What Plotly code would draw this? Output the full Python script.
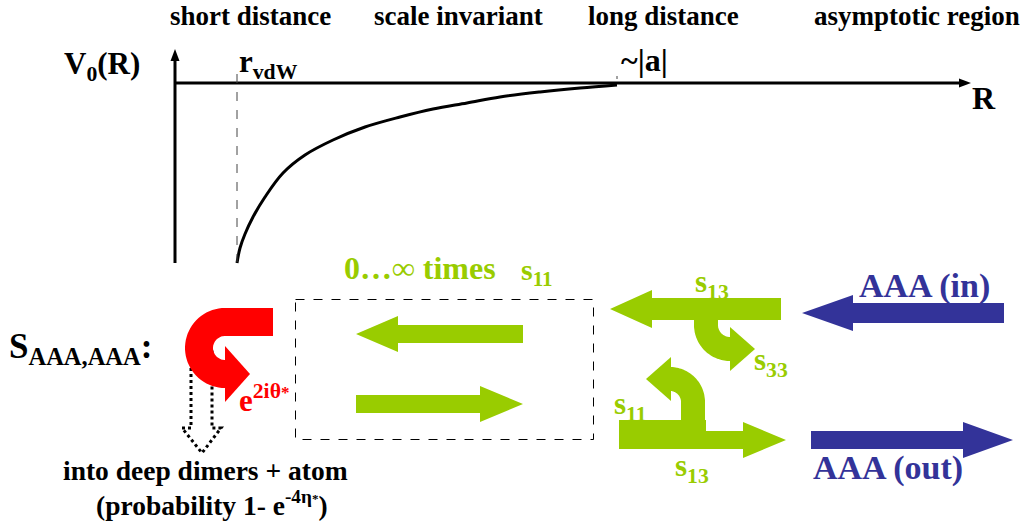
import numpy as np
import plotly.graph_objects as go

W, H = 1029, 527
FONT = "Liberation Serif"
GREEN = "#99CC00"
BLUE = "#333399"
RED = "#FF0000"

# potential curve V0(R) (page coordinates)
curve_R = [237, 240, 245, 253, 265, 283, 305, 333, 365, 400, 433, 467, 500, 540, 580, 617]
curve_V = [263, 248, 234, 217, 197, 173, 155, 140, 127, 117, 109, 103, 97, 92, 88, 85]

region_labels = ["short distance", "scale invariant", "long distance", "asymptotic region"]
region_x = [250, 458, 663, 917]

fig = go.Figure()
fig.add_trace(go.Scatter(x=curve_R, y=curve_V, mode="lines", line=dict(color="black", width=3, shape="spline"),
                         hoverinfo="skip", showlegend=False))

shapes = []


def poly(pts, color):
    d = "M" + " L".join(f"{x:.1f},{y:.1f}" for x, y in pts) + " Z"
    return dict(type="path", path=d, fillcolor=color, line=dict(width=0), xref="x", yref="y", layer="above")


def harrow(x_tail, x_hb, x_tip, y, sh, hh, color):
    pts = [(x_tail, y - sh), (x_hb, y - sh), (x_hb, y - hh), (x_tip, y), (x_hb, y + hh), (x_hb, y + sh), (x_tail, y + sh)]
    return poly(pts, color)


def ring(cx, cy, rin, rout, t0, t1, color, n=40):
    ts = np.radians(np.linspace(t0, t1, n))
    outer = [(cx + rout * np.cos(t), cy + rout * np.sin(t)) for t in ts]
    inner = [(cx + rin * np.cos(t), cy + rin * np.sin(t)) for t in ts[::-1]]
    return poly(outer + inner, color)


def rect(x0, y0, x1, y1, color):
    return poly([(x0, y0), (x1, y0), (x1, y1), (x0, y1)], color)


# axes
shapes.append(dict(type="line", x0=175, x1=175, y0=263, y1=58, line=dict(color="black", width=3)))
shapes.append(poly([(175, 49), (170.5, 61), (179.5, 61)], "black"))
shapes.append(dict(type="line", x0=175, x1=960, y0=83, y1=83, line=dict(color="black", width=3)))
shapes.append(poly([(971, 83), (959, 78.5), (959, 87.5)], "black"))
# dashed markers
shapes.append(dict(type="line", x0=237, x1=237, y0=74, y1=262, line=dict(color="#444444", width=1, dash="dash")))
shapes.append(dict(type="line", x0=617, x1=617, y0=76, y1=82, line=dict(color="#444444", width=1, dash="dot")))
# dashed box
shapes.append(dict(type="rect", x0=295.5, x1=593.5, y0=299.5, y1=439.5, line=dict(color="black", width=1, dash="dash")))

# dotted hollow arrow (loss into deep dimers)
shapes.append(dict(type="path", path="M191,350 L191,428 L182,428 L202,453 L221,428 L212,428 L212,350",
                   line=dict(color="black", width=3, dash="dot"), xref="x", yref="y"))

# red hook
shapes.append(rect(223, 308, 273, 336, RED))
shapes.append(ring(225, 348, 12, 40, 270, 90, RED))
shapes.append(poly([(225, 346), (250, 374), (225, 402)], RED))

# green arrows in box
shapes.append(harrow(523, 398, 356, 334, 9, 18, GREEN))
shapes.append(harrow(356, 480, 523, 404, 9, 18, GREEN))

# green right structure, top
shapes.append(harrow(781, 652, 610, 309, 11, 19, GREEN))
shapes.append(rect(694, 312, 718, 326, GREEN))
shapes.append(ring(730, 325, 12, 36, 180, 90, GREEN))
shapes.append(poly([(730, 327), (755, 349), (730, 371)], GREEN))

# green right structure, bottom
shapes.append(harrow(619, 743, 786, 440, 9, 18, GREEN))
shapes.append(rect(619, 420, 706, 448, GREEN))
shapes.append(rect(681, 400, 705, 432, GREEN))
shapes.append(ring(670, 402, 11, 35, 0, -90, GREEN))
shapes.append(poly([(671, 357), (646, 379), (671, 401)], GREEN))

# blue arrows
shapes.append(harrow(1004, 853, 802, 313, 10, 18, BLUE))
shapes.append(harrow(811, 963, 1013, 440, 9, 18, BLUE))

ann = []


def text(x, y, s, size, color="black", xanchor="center"):
    ann.append(dict(x=x, y=y, xref="x", yref="y", text=f"<b>{s}</b>", showarrow=False,
                    font=dict(family=FONT, size=size, color=color), xanchor=xanchor, yanchor="middle"))


for lab, x in zip(region_labels, region_x):
    text(x, 16, lab, 27)

text(102, 66, "V<sub>0</sub>(R)", 31)
text(268, 64, "r<sub>vdW</sub>", 31)
text(644, 60, "~|a|", 32)
text(984, 98, "R", 32)
text(80, 348, "S<sub>AAA,AAA</sub>:", 35)
text(420, 268, "0…∞ times", 32, GREEN)
text(537, 272, "s<sub>11</sub>", 30, GREEN)
text(264, 398, "e<sup>2iθ<span style='font-size:17px'>*</span></sup>", 31, RED)
text(205, 470, "into deep dimers + atom", 27.5)
text(212, 503, "(probability 1- e<sup>-4η<span style='font-size:13px'>*</span></sup>)", 27.5)
text(924, 286, "AAA (in)", 34, BLUE)
text(888, 468, "AAA (out)", 34, BLUE)
text(712, 284, "s<sub>13</sub>", 31, GREEN)
text(771, 362, "s<sub>33</sub>", 31, GREEN)
text(630, 406, "s<sub>11</sub>", 31, GREEN)
text(692, 468, "s<sub>13</sub>", 31, GREEN)

fig.update_layout(
    width=W, height=H, margin=dict(l=0, r=0, t=0, b=0),
    paper_bgcolor="white", plot_bgcolor="white", font=dict(family=FONT),
    xaxis=dict(range=[0, W], visible=False, fixedrange=True),
    yaxis=dict(range=[H, 0], visible=False, fixedrange=True),
    shapes=shapes, annotations=ann, showlegend=False,
)
fig.write_html("out.html")
